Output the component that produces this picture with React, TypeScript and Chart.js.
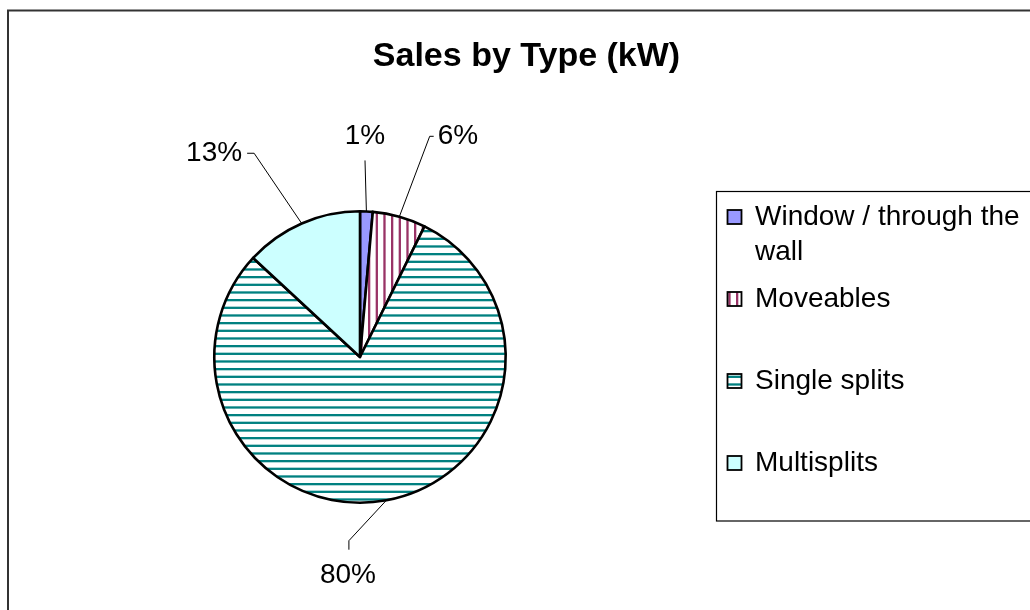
import React, { useEffect, useRef } from "react";
import { Chart, registerables } from "chart.js";

Chart.register(...registerables);

// ---- data ----
const chartTitle = "Sales by Type (kW)";
const categories = ["Window / through the wall", "Moveables", "Single splits", "Multisplits"];
const shares = [1.4, 5.9, 79.6, 13.1];

// ---- styling / layout (not data) ----
const FONT = '"Liberation Sans", Arial, Helvetica, sans-serif';
// label placement relative to the slice edge point: [dx, dy, leader side]
const labelLayout: [number, number, string][] = [
  [-1.4, -77, "bottom"],
  [58.6, -82.4, "left"],
  [-38.5, 72.4, "top"],
  [-87.6, -72.2, "right"],
];

function stripePattern(ctx: CanvasRenderingContext2D, vertical: boolean, color: string) {
  const tile = document.createElement("canvas");
  tile.width = 23;
  tile.height = 23;
  const g = tile.getContext("2d")!;
  g.fillStyle = "#ffffff";
  g.fillRect(0, 0, 23, 23);
  g.fillStyle = color;
  const period = 23 / 3;
  for (let k = 0; k < 3; k++) {
    const p = k * period;
    if (vertical) g.fillRect(p, 0, 2.3, 23);
    else g.fillRect(0, p, 23, 2.3);
  }
  return ctx.createPattern(tile, "repeat")!;
}

function wrapText(ctx: CanvasRenderingContext2D, text: string, maxW: number) {
  const words = text.split(" ");
  const lines: string[] = [];
  let cur = "";
  for (const w of words) {
    const test = cur ? cur + " " + w : w;
    if (ctx.measureText(test).width > maxW && cur) {
      lines.push(cur);
      cur = w;
    } else cur = test;
  }
  if (cur) lines.push(cur);
  return lines;
}

const decorPlugin = {
  id: "decor",
  beforeDraw(chart: any) {
    const ctx: CanvasRenderingContext2D = chart.ctx;
    ctx.save();
    ctx.fillStyle = "#ffffff";
    ctx.fillRect(0, 0, chart.width, chart.height);
    ctx.strokeStyle = "#333333";
    ctx.lineWidth = 2;
    ctx.strokeRect(8, 10.5, 1200, 1200);
    ctx.restore();
  },
  afterDraw(chart: any) {
    const ctx: CanvasRenderingContext2D = chart.ctx;
    ctx.save();
    // title
    ctx.fillStyle = "#000";
    ctx.font = `bold 34px ${FONT}`;
    ctx.textAlign = "center";
    ctx.textBaseline = "alphabetic";
    ctx.fillText(chartTitle, 526.5, 66);

    // data labels with leader lines
    const data: number[] = chart.data.datasets[0].data;
    const total = data.reduce((a, b) => a + b, 0);
    const meta = chart.getDatasetMeta(0);
    ctx.font = `28px ${FONT}`;
    ctx.strokeStyle = "#000";
    ctx.lineWidth = 1;
    meta.data.forEach((arc: any, i: number) => {
      const p = arc.getProps(["x", "y", "startAngle", "endAngle", "outerRadius"], true);
      const mid = (p.startAngle + p.endAngle) / 2;
      const ex = p.x + Math.cos(mid) * p.outerRadius;
      const ey = p.y + Math.sin(mid) * p.outerRadius;
      const [dx, dy, side] = labelLayout[i];
      const cx = ex + dx;
      const cy = ey + dy;
      const txt = Math.round((data[i] / total) * 100) + "%";
      const w = ctx.measureText(txt).width;
      ctx.textAlign = "center";
      ctx.fillText(txt, cx, cy + 10);
      ctx.beginPath();
      ctx.moveTo(ex, ey);
      if (side === "bottom") {
        ctx.lineTo(cx, cy + 26);
      } else if (side === "left") {
        ctx.lineTo(cx - w / 2 - 8, cy + 2);
        ctx.lineTo(cx - w / 2 - 4, cy + 2);
      } else if (side === "right") {
        ctx.lineTo(cx + w / 2 + 12, cy + 2);
        ctx.lineTo(cx + w / 2 + 5, cy + 2);
      } else {
        ctx.lineTo(cx + 1, cy - 32);
        ctx.lineTo(cx + 1, cy - 23);
      }
      ctx.stroke();
    });

    // legend
    const bg = chart.data.datasets[0].backgroundColor;
    ctx.strokeStyle = "#000";
    ctx.lineWidth = 1.2;
    ctx.strokeRect(716.5, 191.5, 400, 329.5);
    ctx.font = `28px ${FONT}`;
    ctx.textAlign = "left";
    let y = 215;
    chart.data.labels.forEach((lab: string, i: number) => {
      const lines = wrapText(ctx, lab, 272);
      const my = y + 2;
      ctx.fillStyle = bg[i];
      ctx.fillRect(727.5, my - 7, 14, 14);
      ctx.lineWidth = 1.8;
      ctx.strokeStyle = "#000";
      ctx.strokeRect(727.5, my - 7, 14, 14);
      ctx.fillStyle = "#000";
      lines.forEach((ln, k) => ctx.fillText(ln, 755, y + k * 35 + 10));
      y += 82;
    });
    ctx.restore();
  },
};

export default function App() {
  const ref = useRef<HTMLCanvasElement>(null);
  useEffect(() => {
    document.body.style.margin = "0";
    document.body.style.overflow = "hidden";
    const canvas = ref.current!;
    const ctx = canvas.getContext("2d")!;
    const colors = [
      "#9999FF",
      stripePattern(ctx, true, "#993366"),
      stripePattern(ctx, false, "#008080"),
      "#CCFFFF",
    ];
    const chart = new Chart(canvas, {
      type: "pie",
      data: {
        labels: categories,
        datasets: [
          {
            data: shares,
            backgroundColor: colors as any,
            borderColor: "#000000",
            borderWidth: 2.6,
            borderJoinStyle: "round",
          } as any,
        ],
      },
      options: {
        responsive: false,
        animation: false,
        events: [],
        layout: { padding: { left: 213, top: 210, right: 523, bottom: 106 } },
        plugins: {
          legend: { display: false },
          title: { display: false },
          tooltip: { enabled: false },
        },
      },
      plugins: [decorPlugin],
    });
    return () => chart.destroy();
  }, []);
  return (
    <div style={{ width: 1030, height: 610 }}>
      <canvas ref={ref} width={1030} height={610} style={{ display: "block", width: 1030, height: 610 }} />
    </div>
  );
}
